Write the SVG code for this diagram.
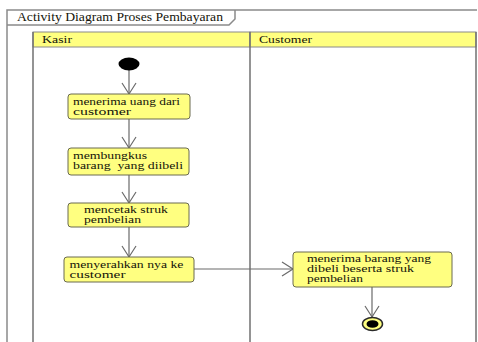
<svg xmlns="http://www.w3.org/2000/svg" width="478" height="342" viewBox="0 0 478 342">
<style>
text{font-family:"Liberation Serif","Times New Roman",serif;font-size:10.5px;fill:#14140a}
.frame{fill:none;stroke:#8a8a8a;stroke-width:1.5}
.hdr{fill:#ffff80;stroke:#8a8a8a;stroke-width:1}
.lane{fill:none;stroke:#707070;stroke-width:1.5}
.act{fill:#ffff80;stroke:#6a6a50;stroke-width:1}
.edge{fill:none;stroke:#6a6a6a;stroke-width:1.2}
</style>
<defs>
<marker id="open" markerWidth="14" markerHeight="16" refX="12" refY="8" orient="auto" markerUnits="userSpaceOnUse">
<path d="M1,1 L12,8 L1,15" fill="none" stroke="#6a6a6a" stroke-width="1.2"/>
</marker>
</defs>
<rect width="478" height="342" fill="#ffffff"/>
<g id="frame">
<path class="frame" d="M7,345 L7,10 L477,10"/>
<path class="frame" d="M7,25 L229,25 L235,19 L235,10"/>
<text x="17" y="21" textLength="206" lengthAdjust="spacingAndGlyphs" style="font-size:11.5px">Activity Diagram Proses Pembayaran</text>
</g>
<g id="lane-kasir">
<rect class="hdr" x="33" y="32" width="217" height="15"/>
<line class="lane" x1="33" y1="32" x2="33" y2="345"/>
<text x="42" y="43" textLength="30" lengthAdjust="spacingAndGlyphs">Kasir</text>
</g>
<g id="lane-customer">
<rect class="hdr" x="250" y="32" width="226" height="15"/>
<line class="lane" x1="250" y1="32" x2="250" y2="345"/>
<line class="lane" x1="476" y1="32" x2="476" y2="345"/>
<text x="259" y="43" textLength="53" lengthAdjust="spacingAndGlyphs">Customer</text>
</g>
<g id="edges">
<line class="edge" x1="129" y1="70" x2="129" y2="94" marker-end="url(#open)"/>
<line class="edge" x1="129" y1="119" x2="129" y2="148" marker-end="url(#open)"/>
<line class="edge" x1="129" y1="175" x2="129" y2="203" marker-end="url(#open)"/>
<line class="edge" x1="129" y1="227" x2="129" y2="257" marker-end="url(#open)"/>
<line class="edge" x1="194" y1="269" x2="293" y2="269" marker-end="url(#open)"/>
<line class="edge" x1="372" y1="287" x2="372" y2="317" marker-end="url(#open)"/>
</g>
<g id="start">
<ellipse cx="129" cy="64" rx="10.5" ry="6.5" fill="#000"/>
</g>
<g id="a1">
<rect class="act" x="68" y="94" width="122" height="25" rx="3"/>
<text x="73" y="105" textLength="107" lengthAdjust="spacingAndGlyphs">menerima uang dari</text>
<text x="73" y="115" textLength="58" lengthAdjust="spacingAndGlyphs">customer</text>
</g>
<g id="a2">
<rect class="act" x="68" y="148" width="121" height="27" rx="3"/>
<text x="73" y="159" textLength="74" lengthAdjust="spacingAndGlyphs">membungkus</text>
<text x="73" y="169" textLength="110" lengthAdjust="spacingAndGlyphs" xml:space="preserve" style="white-space:pre">barang  yang diibeli</text>
</g>
<g id="a3">
<rect class="act" x="68" y="203" width="121" height="24" rx="3"/>
<text x="84" y="213" textLength="84" lengthAdjust="spacingAndGlyphs">mencetak struk</text>
<text x="84" y="223" textLength="57" lengthAdjust="spacingAndGlyphs">pembelian</text>
</g>
<g id="a4">
<rect class="act" x="64" y="257" width="130" height="25" rx="3"/>
<text x="69.5" y="268" textLength="114" lengthAdjust="spacingAndGlyphs">menyerahkan nya ke</text>
<text x="69.5" y="278" textLength="56" lengthAdjust="spacingAndGlyphs">customer</text>
</g>
<g id="a5">
<rect class="act" x="293" y="252" width="159" height="35" rx="3"/>
<text x="307" y="262" textLength="124" lengthAdjust="spacingAndGlyphs">menerima barang yang</text>
<text x="307" y="272" textLength="107" lengthAdjust="spacingAndGlyphs">dibeli beserta struk</text>
<text x="307" y="282" textLength="56" lengthAdjust="spacingAndGlyphs">pembelian</text>
</g>
<g id="end">
<ellipse cx="372.5" cy="324" rx="10" ry="6.5" fill="#ffff80" stroke="#2a2a2a" stroke-width="1.5"/>
<ellipse cx="372.5" cy="324" rx="6" ry="3.8" fill="#000"/>
</g>
</svg>
